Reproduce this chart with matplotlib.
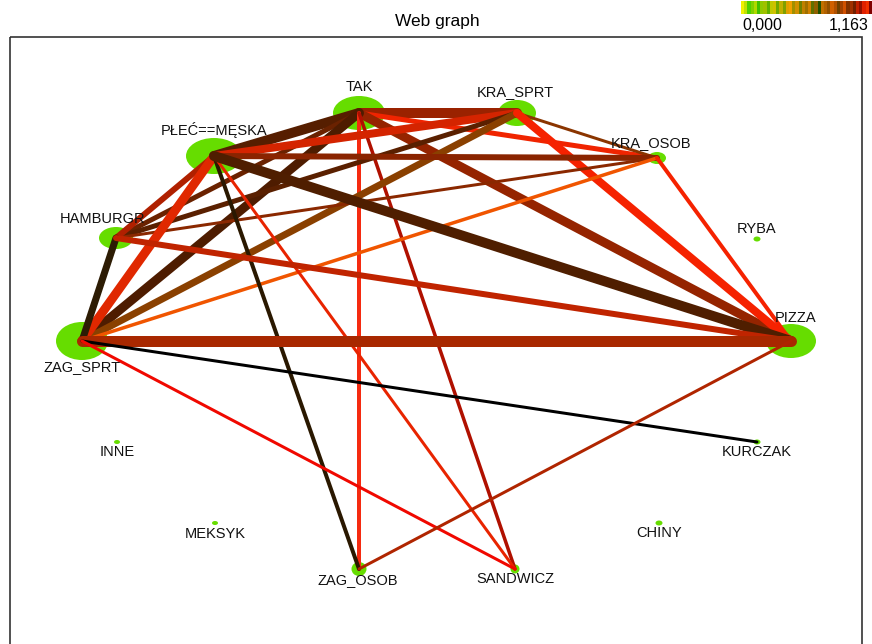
#!/usr/bin/env python3
import numpy as np
import matplotlib
matplotlib.use("Agg")
import matplotlib.pyplot as plt
from matplotlib.patches import Ellipse, Rectangle
from matplotlib.colors import ListedColormap

plt.rcParams['font.family'] = ['Liberation Sans', 'DejaVu Sans']

# nodes of the web graph
nodes = ['TAK', 'KRA_SPRT', 'KRA_OSOB', 'RYBA', 'PIZZA', 'KURCZAK', 'CHINY',
         'SANDWICZ', 'ZAG_OSOB', 'MEKSYK', 'INNE', 'ZAG_SPRT', 'HAMBURGR',
         'PŁEĆ==MĘSKA']

# edges (source, target, strength)
edge_src = ['TAK', 'TAK', 'TAK', 'TAK', 'TAK', 'TAK', 'TAK', 'TAK',
            'KRA_SPRT', 'KRA_SPRT', 'KRA_SPRT', 'KRA_SPRT', 'KRA_SPRT',
            'KRA_OSOB', 'KRA_OSOB', 'KRA_OSOB', 'KRA_OSOB',
            'PŁEĆ==MĘSKA', 'PŁEĆ==MĘSKA', 'PŁEĆ==MĘSKA', 'PŁEĆ==MĘSKA', 'PŁEĆ==MĘSKA',
            'HAMBURGR', 'HAMBURGR', 'ZAG_SPRT', 'ZAG_SPRT', 'ZAG_SPRT', 'PIZZA']
edge_dst = ['KRA_SPRT', 'KRA_OSOB', 'PIZZA', 'PŁEĆ==MĘSKA', 'HAMBURGR', 'ZAG_SPRT',
            'ZAG_OSOB', 'SANDWICZ',
            'PŁEĆ==MĘSKA', 'HAMBURGR', 'ZAG_SPRT', 'KRA_OSOB', 'PIZZA',
            'PŁEĆ==MĘSKA', 'HAMBURGR', 'ZAG_SPRT', 'PIZZA',
            'HAMBURGR', 'ZAG_SPRT', 'ZAG_OSOB', 'SANDWICZ', 'PIZZA',
            'ZAG_SPRT', 'PIZZA', 'PIZZA', 'KURCZAK', 'SANDWICZ', 'ZAG_OSOB']
edge_w = [10, 5, 9, 10, 5, 9, 4, 3.5,
          8, 5, 7, 3, 8,
          6, 3, 3.5, 4,
          6, 9, 4, 3, 10,
          7, 6, 11, 3, 3, 3]

# colour scale ends
scale_min, scale_max = '0,000', '1,163'

# layout / style
pos = {
    'TAK': (359, 113), 'KRA_SPRT': (517, 113), 'KRA_OSOB': (657, 158),
    'RYBA': (757, 239), 'PIZZA': (791, 341), 'KURCZAK': (757, 442),
    'CHINY': (659, 523), 'SANDWICZ': (515, 569), 'ZAG_OSOB': (359, 569),
    'MEKSYK': (215, 523), 'INNE': (117, 442), 'ZAG_SPRT': (82, 341),
    'HAMBURGR': (116, 238), 'PŁEĆ==MĘSKA': (214, 156),
}
node_size = {
    'TAK': (52, 34), 'KRA_SPRT': (38, 26), 'KRA_OSOB': (18, 12),
    'RYBA': (7, 5), 'PIZZA': (50, 34), 'KURCZAK': (7, 5), 'CHINY': (7, 5),
    'SANDWICZ': (9, 9), 'ZAG_OSOB': (15, 14), 'MEKSYK': (6, 4), 'INNE': (6, 4),
    'ZAG_SPRT': (52, 38), 'HAMBURGR': (34, 22), 'PŁEĆ==MĘSKA': (56, 36),
}
label_pos = {
    'TAK': (359, 87), 'KRA_SPRT': (515, 92), 'KRA_OSOB': (651, 143),
    'RYBA': (757, 229), 'PIZZA': (796, 318), 'KURCZAK': (757, 452),
    'CHINY': (659, 533), 'SANDWICZ': (515, 579), 'ZAG_OSOB': (358, 580),
    'MEKSYK': (215, 534), 'INNE': (117, 452), 'ZAG_SPRT': (82, 367),
    'HAMBURGR': (103, 219), 'PŁEĆ==MĘSKA': (214, 130),
}
edge_col = ['#9a2200', '#f02400', '#952400', '#561e00', '#6a2200', '#4e1c00',
            '#f52a10', '#b01000',
            '#d42400', '#5a2000', '#8a4000', '#8a3500', '#f52200',
            '#8a2400', '#8a2800', '#f05500', '#f52200',
            '#b02000', '#e02800', '#2a1800', '#e82400', '#4f1e00',
            '#2d1c04', '#c02400', '#a82800', '#000000', '#f00800', '#b02500']
stripes = ['#f0f000', '#c0e000', '#50d000', '#80d000', '#b0d800', '#40c000',
           '#90c800', '#a0c000', '#60b000', '#c0c800', '#d0c000', '#70a800',
           '#c0b000', '#80a000', '#e0a000', '#f0a000', '#a09000', '#d09000',
           '#708000', '#c08000', '#a07000', '#d08000', '#607000', '#906000',
           '#205000', '#c07000', '#b06000', '#905000', '#d06000', '#b05000',
           '#704000', '#a04000', '#d05000', '#803000', '#a03000', '#702000',
           '#c02000', '#901000', '#e02000', '#f03000', '#800000']

fig = plt.figure(figsize=(8.72, 6.44), dpi=100)
ax = fig.add_axes([0, 0, 1, 1])
ax.set_xlim(0, 872)
ax.set_ylim(644, 0)
ax.axis('off')

px = 0.72  # points per pixel

ax.add_patch(Rectangle((10, 37), 852, 620, fill=False, edgecolor='#333333', lw=1.2))
ax.text(437, 21, 'Web graph', ha='center', va='center', fontsize=12.5)

# colour scale in top right corner
grad = np.arange(len(stripes)).reshape(1, -1)
ax.imshow(grad, cmap=ListedColormap(stripes), aspect='auto',
          extent=(741, 871, 14, 1), interpolation='nearest', zorder=3)
ax.text(762, 25, scale_min, ha='center', va='center', fontsize=11.5)
ax.text(849, 25, scale_max, ha='center', va='center', fontsize=11.5)

for s, d, w, c in zip(edge_src, edge_dst, edge_w, edge_col):
    x0, y0 = pos[s]
    x1, y1 = pos[d]
    ax.plot([x0, x1], [y0, y1], color=c, lw=w * px, solid_capstyle='round', zorder=2)

for n in nodes:
    x, y = pos[n]
    wdt, hgt = node_size[n]
    ax.add_patch(Ellipse((x, y), wdt, hgt, facecolor='#66dd00', edgecolor='none', zorder=1))
    lx, ly = label_pos[n]
    ax.text(lx, ly, n, ha='center', va='center', fontsize=10.5, color='#111111', zorder=4)

fig.savefig('out.png', dpi=100)
